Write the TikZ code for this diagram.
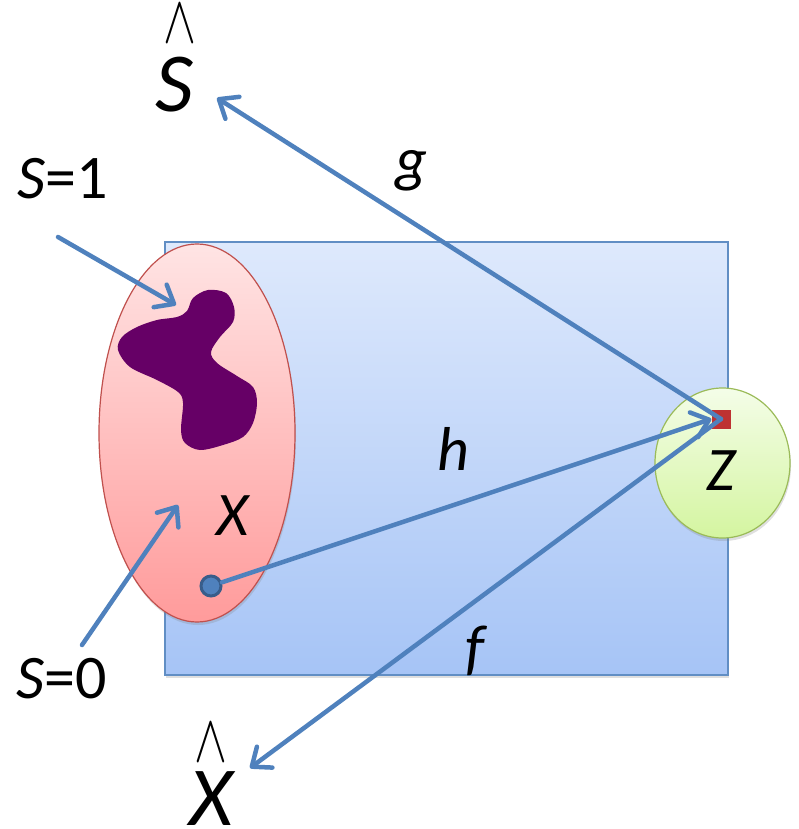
\RequirePackage{fix-cm}
\documentclass[tikz,border=0pt]{standalone}
\usepackage{fontspec}
\setmainfont{Carlito}
\usetikzlibrary{arrows.meta,shapes.geometric,shadows}
\definecolor{linkblue}{RGB}{79,129,189}
\definecolor{dotedge}{RGB}{56,93,138}
\definecolor{blobpurple}{RGB}{102,0,102}
\definecolor{sqred}{RGB}{190,50,50}
\begin{document}
\begin{tikzpicture}[x=1pt,y=-1pt,
  lbl/.style={font=\fontsize{62}{68}\selectfont, inner sep=0pt, anchor=base},
  biglbl/.style={font=\fontsize{84}{90}\selectfont\itshape, inner sep=0pt, anchor=base},
  hatmark/.style={font=\fontsize{52}{56}\selectfont, inner sep=0pt},
  link/.style={draw=linkblue, line width=4.5pt, line cap=round,
    -{Straight Barb[length=16pt,width=26pt,round]}},
  soft/.style={drop shadow={shadow xshift=1pt,shadow yshift=-3pt,opacity=0.25}}]
\useasboundingbox (0,0) rectangle (798,829);

% space, sets and codes
\node[rectangle, draw=linkblue!90, line width=1.2pt, soft, top color={rgb,255:red,222;green,233;blue,252},
  bottom color={rgb,255:red,166;green,196;blue,246}, minimum width=563pt, minimum height=433pt] (space) at (446.5,458.5) {};
\node[ellipse, draw={rgb,255:red,192;green,80;blue,77}, line width=1.2pt, soft, top color={rgb,255:red,255;green,228;blue,228},
  bottom color={rgb,255:red,255;green,155;blue,155}, minimum width=196pt, minimum height=378pt] (xset) at (197,433) {};
\node[ellipse, draw={rgb,255:red,155;green,187;blue,89}, line width=1.2pt, soft, top color={rgb,255:red,244;green,253;blue,232},
  bottom color={rgb,255:red,212;green,245;blue,160}, minimum width=135pt, minimum height=150pt] (zset) at (722.5,463) {};

% the S=1 region
\fill[blobpurple] plot[smooth cycle, tension=0.55] coordinates {(208,290) (226,293) (234,307) (233,322) (220,337) (211,352)
  (217,363) (237,376) (253,387) (257,403) (253,423) (243,437) (223,445) (200,450) (185,443) (181,430) (183,403) (178,392)
  (157,380) (130,367) (118,350) (122,337) (137,327) (157,320) (177,317) (187,311) (193,298)};

\node[rectangle, fill=sqred, minimum size=19pt, inner sep=0pt] (code) at (721,419) {};

% labels
\node[hatmark] (shat) at (180,24) {\scalebox{0.95}[1.3]{$\wedge$}};
\node[biglbl] (s) at (174,112) {S};
\node[hatmark] (xhat) at (211,743) {\scalebox{0.95}[1.3]{$\wedge$}};
\node[biglbl] (xrec) at (211,825) {X};
\node[lbl] (sone) at (63,198) {\textit{S}=1};
\node[lbl] (szero) at (62,698) {\textit{S}=0};
\node[lbl] (g) at (411,181) {\textit{g}};
\node[lbl] (h) at (453,470) {\textit{h}};
\node[lbl] (f) at (476,668) {\textit{f}};
\node[lbl] (x) at (234,535) {\textit{X}};
\node[lbl] (z) at (722,490) {\textit{Z}};

\coordinate (gend) at (217,98);
\coordinate (fend) at (250,768);
\coordinate (onestart) at (58,237);
\coordinate (oneend) at (176,305);
\coordinate (zerostart) at (82,645);
\coordinate (zeroend) at (178,505);

\node[circle, fill=linkblue, draw=dotedge, line width=3pt, minimum size=20pt, inner sep=0pt] (dot) at (211,586) {};

\draw[link] (code.center) -- (gend);
\draw[link] (code.center) -- (fend);
\draw[link] (dot) -- (code.west);
\draw[link] (onestart) -- (oneend);
\draw[link] (zerostart) -- (zeroend);
\end{tikzpicture}
\end{document}
